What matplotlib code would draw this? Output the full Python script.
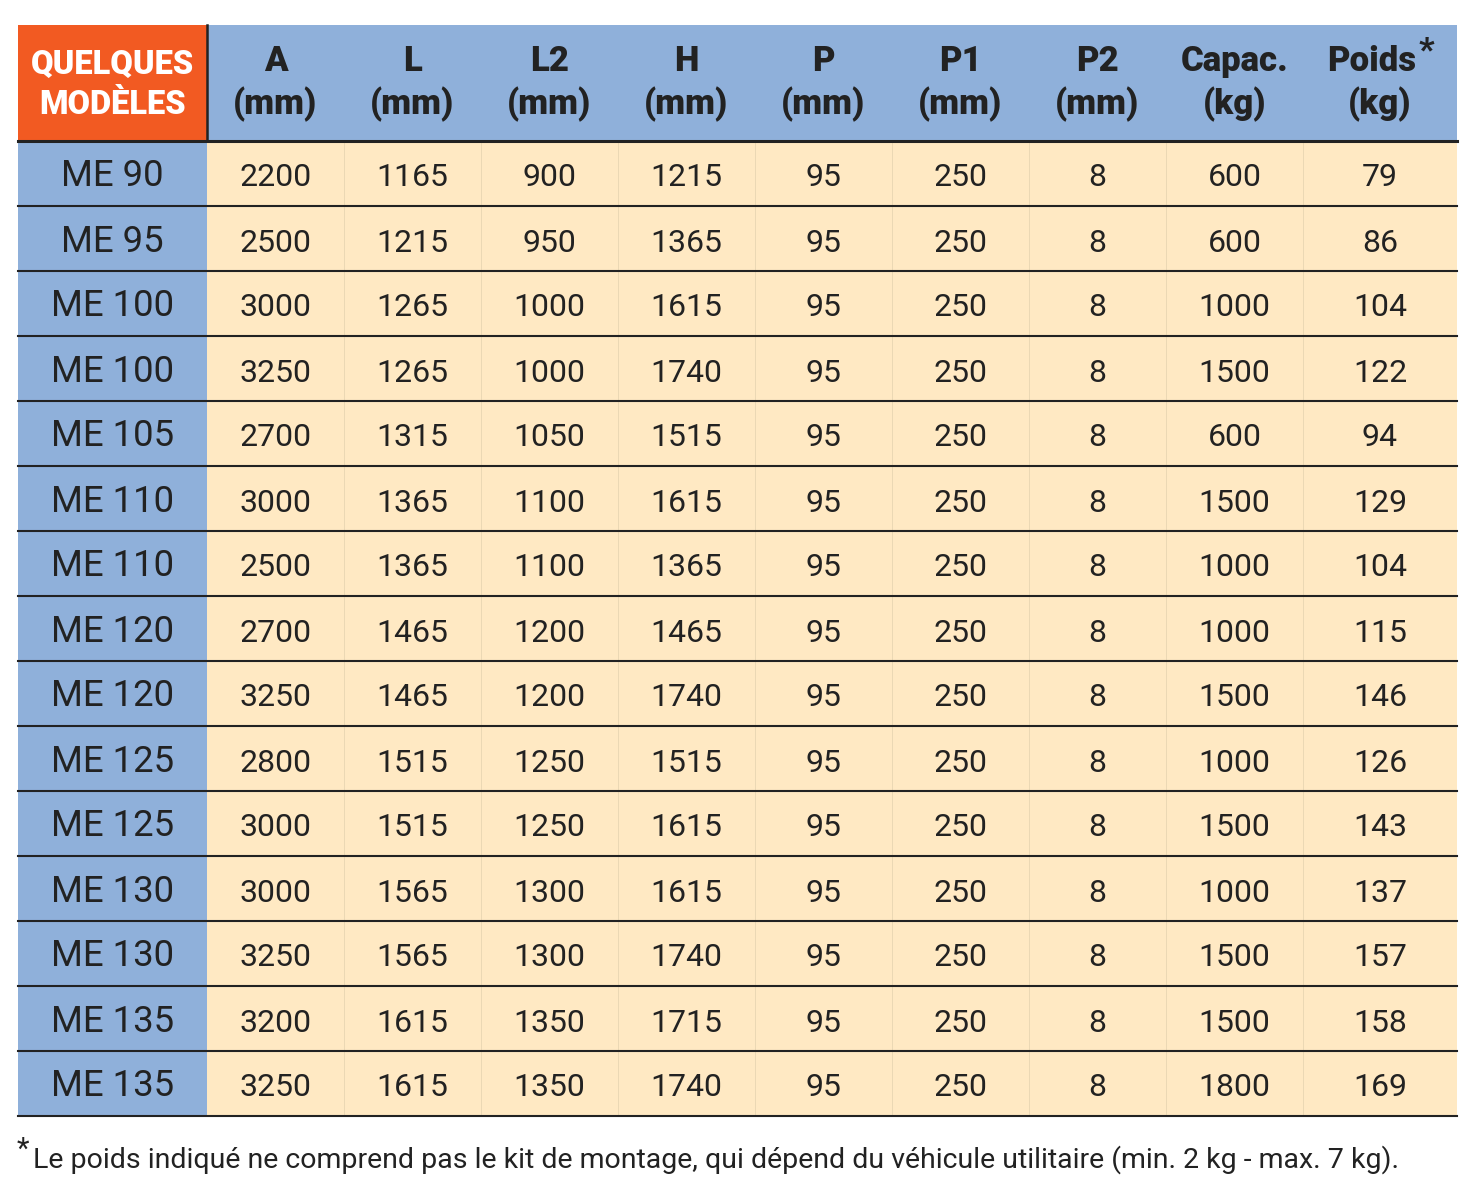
import matplotlib.pyplot as plt
from matplotlib.patches import Rectangle

# table content
models = ["ME 90", "ME 95", "ME 100", "ME 100", "ME 105", "ME 110", "ME 110",
          "ME 120", "ME 120", "ME 125", "ME 125", "ME 130", "ME 130", "ME 135", "ME 135"]
col_a = [2200, 2500, 3000, 3250, 2700, 3000, 2500, 2700, 3250, 2800, 3000, 3000, 3250, 3200, 3250]
col_l = [1165, 1215, 1265, 1265, 1315, 1365, 1365, 1465, 1465, 1515, 1515, 1565, 1565, 1615, 1615]
col_l2 = [900, 950, 1000, 1000, 1050, 1100, 1100, 1200, 1200, 1250, 1250, 1300, 1300, 1350, 1350]
col_h = [1215, 1365, 1615, 1740, 1515, 1615, 1365, 1465, 1740, 1515, 1615, 1615, 1740, 1715, 1740]
col_p = [95] * 15
col_p1 = [250] * 15
col_p2 = [8] * 15
col_capac = [600, 600, 1000, 1500, 600, 1500, 1000, 1000, 1500, 1000, 1500, 1000, 1500, 1500, 1800]
col_poids = [79, 86, 104, 122, 94, 129, 104, 115, 146, 126, 143, 137, 157, 158, 169]

head_top = ["A", "L", "L2", "H", "P", "P1", "P2", "Capac.", "Poids"]
head_bottom = ["(mm)", "(mm)", "(mm)", "(mm)", "(mm)", "(mm)", "(mm)", "(kg)", "(kg)"]
footnote = "Le poids indiqué ne comprend pas le kit de montage, qui dépend du véhicule utilitaire (min. 2 kg - max. 7 kg)."

columns = [col_a, col_l, col_l2, col_h, col_p, col_p1, col_p2, col_capac, col_poids]

ORANGE = "#F25A22"
BLUE = "#8FB0DA"
CREAM = "#FFE9C3"
DARK = "#222222"
FONT = "Roboto"

W, H = 1474, 1193
fig = plt.figure(figsize=(W / 100, H / 100), dpi=100)
ax = fig.add_axes([0, 0, 1, 1])
ax.set_xlim(0, W)
ax.set_ylim(H, 0)
ax.axis("off")

# layout (pixels)
x0, x_first = 18, 207
widths = [137] * 8 + [154]
edges = [x_first]
for w in widths:
    edges.append(edges[-1] + w)
x1 = edges[-1]
y_top, y_head = 25, 141
row_h = 65
n = len(models)
y_bot = y_head + n * row_h

# backgrounds
ax.add_patch(Rectangle((x0, y_top), x_first - x0, y_head - y_top, color=ORANGE, lw=0))
ax.add_patch(Rectangle((x_first, y_top), x1 - x_first, y_head - y_top, color=BLUE, lw=0))
ax.add_patch(Rectangle((x0, y_head), x_first - x0, y_bot - y_head, color=BLUE, lw=0))
ax.add_patch(Rectangle((x_first, y_head), x1 - x_first, y_bot - y_head, color=CREAM, lw=0))

# faint column separators in the body
for e in edges[1:-1]:
    ax.plot([e, e], [y_head, y_bot], color="#EBD8B4", lw=0.7, zorder=2)
# dark separator in header
ax.plot([x_first, x_first], [y_top, y_head], color=DARK, lw=1.8, zorder=3)

# row lines
ax.plot([x0, x1], [y_head, y_head], color=DARK, lw=2.2, zorder=3)
for i in range(1, n + 1):
    y = y_head + i * row_h
    ax.plot([x0, x1], [y, y], color=DARK, lw=1.5, zorder=3)

# header text
cx0 = (x0 + x_first) / 2
ax.text(cx0, 74, "QUELQUES", ha="center", va="baseline", fontsize=23.5,
        fontweight=900, color="white", family=FONT)
ax.text(cx0, 114, "MODÈLES", ha="center", va="baseline", fontsize=23.5,
        fontweight=900, color="white", family=FONT)
for j, (t, b) in enumerate(zip(head_top, head_bottom)):
    cx = (edges[j] + edges[j + 1]) / 2
    if t == "Poids":
        cx -= 8
    ax.text(cx, 71, t, ha="center", va="baseline", fontsize=25,
            fontweight=900, color=DARK, family=FONT)
    ax.text(cx + (8 if t == "Poids" else 0), 114, b, ha="center", va="baseline",
            fontsize=25, fontweight=900, color=DARK, family=FONT)
# asterisk on Poids
ax.text(edges[-1] - 38, 60, "*", ha="left", va="baseline", fontsize=24,
        fontweight=900, color=DARK, family=FONT)

# body text
for i in range(n):
    yb = y_head + (i + 1) * row_h - 19.5
    ax.text(cx0, yb, models[i], ha="center", va="baseline", fontsize=26.3,
            color=DARK, family=FONT)
    for j, col in enumerate(columns):
        cx = (edges[j] + edges[j + 1]) / 2
        ax.text(cx, yb, str(col[i]), ha="center", va="baseline", fontsize=23,
                color=DARK, family=FONT)

# footnote
ax.text(17, 1158, "*", ha="left", va="baseline", fontsize=21, color=DARK, family=FONT)
ax.text(33, 1168, footnote, ha="left", va="baseline", fontsize=20.5,
        color=DARK, family=FONT)

fig.savefig("out.png", dpi=100, facecolor="white")
